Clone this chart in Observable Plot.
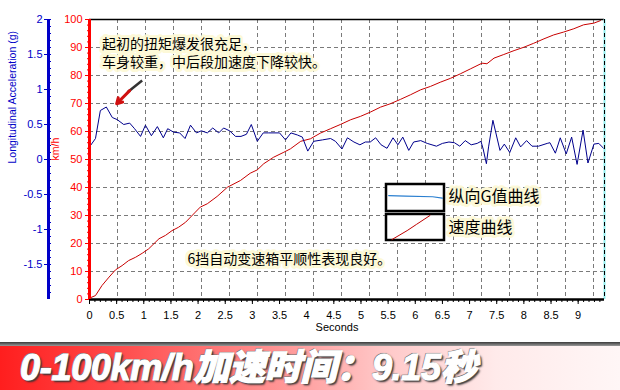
<!DOCTYPE html>
<html><head><meta charset="utf-8">
<script src="https://cdn.jsdelivr.net/npm/d3@7"></script>
<script src="https://cdn.jsdelivr.net/npm/@observablehq/plot@0.6"></script>
<style>
body{margin:0;background:#fff;width:620px;height:390px;overflow:hidden;font-family:"Liberation Sans",Arial,sans-serif}
#chart svg{display:block}
#banner{position:relative;width:620px;height:48px}
#banner .shade{height:4px;background:linear-gradient(to bottom,#3a3a3a,#9a9a9a)}
#banner .red{position:relative;height:44px;background:linear-gradient(to right,#ff1e1e 0%,#ff4848 18%,#ff8c8c 42%,#ffc8c8 62%,#ffeaea 80%,#fff6f6 100%)}
#banner span{position:absolute;left:20px;top:2px;height:40px;line-height:40px;font:italic 900 36px "Liberation Sans","Noto Sans CJK SC",sans-serif;line-height:40px;color:#fff;letter-spacing:-0.3px;-webkit-text-stroke:1.2px #fff;text-shadow:1px 1px 0 #555,2px 2px 2px #333,-1px -1px 0 #777,0 0 2px #666;white-space:nowrap}
</style></head><body>
<div id="chart"></div>
<div id="banner"><div class="shade"></div><div class="red"><span id="title"></span></div></div>
<script>
// ---- data ----
const speedT = [0,0.11,0.23,0.36,0.48,0.60,0.72,0.85,0.97,1.09,1.28,1.40,1.52,1.64,1.77,1.95,2.04,2.17,2.35,2.54,2.78,2.96,3.09,3.21,3.39,3.58,3.70,3.89,4.07,4.25,4.44,4.62,4.81,4.99,5.17,5.36,5.54,5.73,5.91,6.10,6.28,6.46,6.65,6.83,7.02,7.23,7.32,7.45,7.63,7.82,8.00,8.18,8.37,8.55,8.73,8.92,9.10,9.29,9.41];
const speedV = [0.5,1.4,5.0,8.0,10.6,12.1,13.9,15.1,16.5,18.1,21.7,22.9,24.6,25.8,27.6,31.2,33.0,34.2,36.8,40.1,42.5,45.1,46.3,48.5,50.8,52.6,53.8,56.5,57.4,59.4,61.0,62.5,64.2,65.4,66.9,68.7,69.9,71.5,73.1,74.9,76.1,77.6,79.0,80.6,82.4,84.4,84.2,86.2,87.5,88.9,90.1,91.5,93.1,94.5,95.5,96.7,98.1,98.7,99.6];
const accT = [0,0.11,0.20,0.31,0.42,0.51,0.63,0.74,0.83,0.94,1.03,1.14,1.25,1.36,1.44,1.55,1.66,1.76,1.86,1.97,2.06,2.17,2.27,2.38,2.47,2.58,2.69,2.79,2.89,2.98,3.09,3.20,3.30,3.50,3.61,3.71,3.83,3.92,4.02,4.13,4.29,4.44,4.53,4.65,4.75,4.87,4.98,5.08,5.17,5.27,5.37,5.48,5.59,5.68,5.77,5.88,5.97,6.10,6.22,6.39,6.50,6.62,6.72,6.82,6.92,7.03,7.14,7.21,7.25,7.31,7.35,7.43,7.56,7.64,7.74,7.85,7.94,8.05,8.15,8.27,8.43,8.48,8.58,8.67,8.78,8.88,8.98,9.09,9.18,9.29,9.38,9.48];
const accG = [0.18,0.30,0.70,0.75,0.60,0.57,0.50,0.52,0.44,0.33,0.49,0.34,0.47,0.31,0.44,0.39,0.38,0.30,0.49,0.38,0.41,0.38,0.45,0.38,0.45,0.41,0.33,0.33,0.36,0.50,0.26,0.38,0.38,0.38,0.28,0.38,0.35,0.32,0.12,0.26,0.28,0.30,0.26,0.15,0.31,0.25,0.21,0.25,0.25,0.31,0.21,0.16,0.31,0.21,0.32,0.13,0.25,0.27,0.23,0.19,0.23,0.25,0.24,0.19,0.27,0.21,0.23,0.26,0.15,-0.06,0.18,0.56,0.13,0.22,0.10,0.31,0.18,0.27,0.19,0.19,0.23,0.24,0.09,0.31,0.08,0.32,-0.07,0.42,-0.05,0.22,0.23,0.15];
const xTicks = [0,0.5,1,1.5,2,2.5,3,3.5,4,4.5,5,5.5,6,6.5,7,7.5,8,8.5,9];
const kmhTicks = [0,10,20,30,40,50,60,70,80,90,100];
const gTicks = [2,1.5,1,0.5,0,-0.5,-1,-1.5];
const note1 = ["起初的扭矩爆发很充足，","车身较重，中后段加速度下降较快。"];
const note2 = "6挡自动变速箱平顺性表现良好。";
const legendNames = ["纵向G值曲线","速度曲线"];
const titleText = "0-100km/h加速时间：9.15秒";
const xAxisTitle = "Seconds", gAxisTitle = "Longitudinal Acceleration (g)", vAxisTitle = "km/h";

// ---- layout ----
const W = 620, H = 342, mL = 89, mR = 16, mT = 19, mB = 43;
const xMax = 9.485;
const pxPerSec = (W - mL - mR) / xMax, pxPerKmh = (H - mT - mB) / 100;
const gridStep = 10 * pxPerKmh / pxPerSec; // square grid
const gToKmh = g => 50 + 25 * g;

const speed = speedT.map((t, i) => ({t, v: speedV[i]}));
const acc = accT.map((t, i) => ({t, v: gToKmh(accG[i])}));

const RED = "#ff0000", BLUE = "#0000c8", CJK = "'Noto Sans CJK SC',sans-serif";
const halo = {stroke: "#fdf9d6", strokeWidth: 6, strokeOpacity: 0.95};

const chart = Plot.plot({
  width: W, height: H, marginLeft: mL, marginRight: mR, marginTop: mT, marginBottom: mB,
  style: {fontFamily: "'Liberation Sans',Arial,sans-serif", fontSize: "11px", background: "#fff", overflow: "visible"},
  x: {domain: [0, xMax], axis: null},
  y: {domain: [0, 100], axis: null},
  marks: [
    Plot.ruleY(kmhTicks.filter(d => d > 0 && d < 100), {stroke: "#7a7a7a", strokeDasharray: "4,3", strokeWidth: 1}),
    Plot.ruleX(d3.range(1, 19).map(k => k * gridStep), {stroke: "#7a7a7a", strokeDasharray: "4,3", strokeWidth: 1}),
    Plot.line(speed, {x: "t", y: "v", stroke: "#c80000", strokeWidth: 1}),
    Plot.line(acc, {x: "t", y: "v", stroke: "#00008c", strokeWidth: 1}),
    // frame
    Plot.ruleY([100], {stroke: "#000", strokeWidth: 1.5}),
    Plot.ruleX([xMax], {stroke: "#8ff0f0", strokeWidth: 2}),
    Plot.ruleX([xMax], {stroke: "#000", strokeWidth: 1, strokeDasharray: "4,3"}),
    Plot.ruleY([0], {stroke: "#000", strokeWidth: 2.5}),
    Plot.ruleX([0], {stroke: RED, strokeWidth: 3}),
    // red km/h axis
    Plot.axisY(kmhTicks, {anchor: "left", tickSize: 4, tickPadding: 3, color: RED, fontSize: 11, label: null, tickFormat: d => String(d)}),
    Plot.axisY(d3.range(0, 101, 2), {anchor: "left", tickSize: 2, color: RED, label: null, tickFormat: () => ""}),
    // blue g axis
    Plot.ruleX([0], {dx: -41, stroke: BLUE, strokeWidth: 3}),
    Plot.axisY(gTicks.map(gToKmh), {anchor: "left", dx: -41, tickSize: 4, tickPadding: 2, color: BLUE, fontSize: 11, label: null, tickFormat: d => String(Math.round((d - 50) / 25 * 10) / 10)}),
    Plot.axisY(d3.range(-19, 21).map(k => gToKmh(k / 10)), {anchor: "left", dx: -41, tickSize: -3, color: BLUE, label: null, tickFormat: () => ""}),
    // x axis
    Plot.axisX(xTicks, {anchor: "bottom", tickSize: 5, tickPadding: 7, color: "#000", fontSize: 11, label: null, tickFormat: d => String(d)}),
    Plot.axisX(d3.range(0, 9.45, 0.1), {anchor: "bottom", tickSize: 3, color: "#000", label: null, tickFormat: () => ""}),
    Plot.text([xAxisTitle], {frameAnchor: "bottom", dx: -10, dy: 31, fontSize: 11, fill: "#000"}),
    Plot.text([gAxisTitle], {frameAnchor: "left", dx: -77, dy: 4, rotate: -90, fontSize: 10.5, fill: BLUE}),
    Plot.text([vAxisTitle], {frameAnchor: "left", dx: -34, dy: 1, rotate: -90, fontSize: 10.5, fill: RED}),
    // annotations
    Plot.text(note1, {x: 0.23, y: [91.1, 84.6], text: d => d, textAnchor: "start", fontSize: 14, fontFamily: CJK, fill: "#000", ...halo}),
    Plot.text([note2], {x: 3.68, y: 14.3, fontSize: 14, fontFamily: CJK, fill: "#000", ...halo}),
    Plot.link([{}], {x1: 0.97, y1: 78.2, x2: 0.70, y2: 74.0, stroke: "#333", strokeWidth: 2.5}),
    Plot.arrow([{}], {x1: 0.74, y1: 74.6, x2: 0.50, y2: 69.9, stroke: "#d01010", strokeWidth: 3, headLength: 9}),
    // legend
    Plot.rect([{}], {x1: 5.47, x2: 6.538, y1: 31.43, y2: 41.07, fill: "#fff", stroke: "#000", strokeWidth: 2.5}),
    Plot.rect([{}], {x1: 5.47, x2: 6.538, y1: 21.07, y2: 30.36, fill: "#fff", stroke: "#000", strokeWidth: 2.5}),
    Plot.line([[5.51, 37.1], [5.82, 36.9], [6.32, 36.7], [6.50, 36.2]], {stroke: "#2a7fd0", strokeWidth: 1.2}),
    Plot.line([[5.57, 21.4], [5.85, 24.6], [6.02, 26.8], [6.27, 30.0]], {stroke: "#c00000", strokeWidth: 1}),
    Plot.text(legendNames, {x: 6.61, y: [36.8, 25.7], text: d => d, textAnchor: "start", fontSize: 16, fontFamily: CJK, fill: "#000", ...halo})
  ]
});
document.getElementById("chart").appendChild(chart);
document.getElementById("title").textContent = titleText;
</script>
</body></html>
